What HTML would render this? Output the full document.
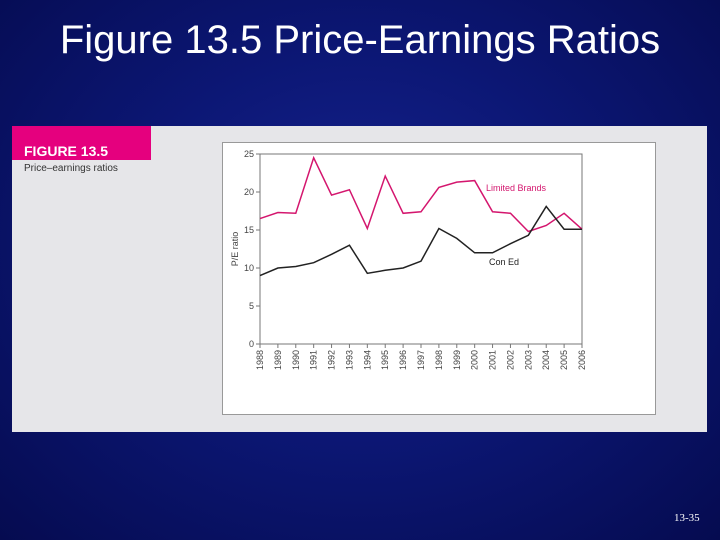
<!DOCTYPE html>
<html><head><meta charset="utf-8"><style>
body{margin:0;width:720px;height:540px;overflow:hidden;background:radial-gradient(ellipse at 50% 45%,#16238f 0%,#0c1775 45%,#050b50 100%);font-family:"Liberation Sans",sans-serif;position:relative}
.title{position:absolute;left:0;width:720px;top:18px;text-align:center;color:#fff;font-size:40px}
.panel{position:absolute;left:12px;top:126px;width:695px;height:306px;background:#e6e6e9}
.hdr{position:absolute;left:0;top:0;width:139px;height:34px;background:#e5007e}
.hdr span{position:absolute;left:12px;top:17px;color:#fff;font-weight:bold;font-size:14px}
.sub{position:absolute;left:12px;top:37px;font-size:10px;color:#333}
.white{position:absolute;left:210px;top:16px;width:432px;height:271px;background:#fff;border:1px solid #999}
.foot{position:absolute;left:674px;top:512px;color:#fff;font-family:"Liberation Serif",serif;font-size:11px}
</style></head><body>
<div class="title">Figure 13.5 Price-Earnings Ratios</div>
<div class="panel">
<div class="hdr"><span>FIGURE 13.5</span></div>
<div class="sub">Price–earnings ratios</div>
<div class="white"></div>
</div>
<svg id="c" width="720" height="540" style="position:absolute;left:0;top:0"></svg>
<div class="foot">13-35</div>
<script>
const years=[1988,1989,1990,1991,1992,1993,1994,1995,1996,1997,1998,1999,2000,2001,2002,2003,2004,2005,2006];
const limited=[16.5,17.3,17.2,24.5,19.6,20.3,15.2,22.1,17.2,17.4,20.6,21.3,21.5,17.4,17.2,14.8,15.6,17.2,15.1];
const conEd=[9.0,10.0,10.2,10.7,11.8,13.0,9.3,9.7,10.0,10.9,15.2,13.9,12.0,12.0,13.2,14.3,18.1,15.1,15.1];
const yTicks=[0,5,10,15,20,25];
const svg=document.getElementById('c');const NS='http://www.w3.org/2000/svg';
const X0=260,X1=582,Y0=344,Y1=154;
const x=i=>X0+(X1-X0)*i/(years.length-1);
const y=v=>Y0-(Y0-Y1)*v/25;
function mk(t,a){const e=document.createElementNS(NS,t);for(const k in a)e.setAttribute(k,a[k]);svg.appendChild(e);return e;}
let r=mk('rect',{x:X0,y:Y1,width:X1-X0,height:Y0-Y1,fill:'none',stroke:'#777','stroke-width':1});


yTicks.forEach(v=>{
 let l=mk('line',{x1:X0-4,x2:X0,y1:y(v),y2:y(v),stroke:'#777'});
 
 
 let t=mk('text',{x:X0-6,y:y(v)+3,'text-anchor':'end','font-size':9,fill:'#444','font-family':'Liberation Sans, sans-serif'});t.textContent=v;
 
 
});
years.forEach((yr,i)=>{
 let l=mk('line',{x1:x(i),x2:x(i),y1:Y0,y2:Y0+4,stroke:'#777'});
 
 
 let t=mk('text',{x:0,y:0,'text-anchor':'end','font-size':9,fill:'#444','font-family':'Liberation Sans, sans-serif',transform:`translate(${x(i)+3},${Y0+6}) rotate(-90)`});t.textContent=yr;
 
 
});
let yt=mk('text',{x:0,y:0,'text-anchor':'middle','font-size':9,fill:'#444','font-family':'Liberation Sans, sans-serif',transform:`translate(238,249) rotate(-90)`});yt.textContent='P/E ratio';


function line(d,c,n){let p=mk('polyline',{points:d.map((v,i)=>x(i)+','+y(v)).join(' '),fill:'none',stroke:c,'stroke-width':1.5});
 
 }
line(limited,'#d4166e','limited-brands-line');
line(conEd,'#222','con-ed-line');
let a=mk('text',{x:486,y:191,'font-size':9,fill:'#d4166e','font-family':'Liberation Sans, sans-serif'});a.textContent='Limited Brands';


let b=mk('text',{x:489,y:265,'font-size':9,fill:'#222','font-family':'Liberation Sans, sans-serif'});b.textContent='Con Ed';


</script>
</body></html>
